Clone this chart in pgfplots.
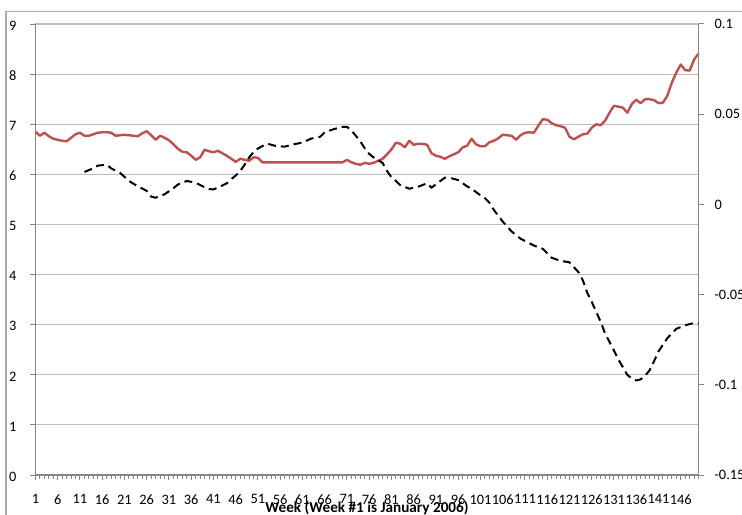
\documentclass[border=0pt]{standalone}
\usepackage{fontspec}
\setmainfont{Carlito}
\usepackage{pgfplots}
\pgfplotsset{compat=1.18}
\usetikzlibrary{calc}
\definecolor{exred}{RGB}{192,80,77}
\definecolor{axgray}{RGB}{134,134,134}
\definecolor{gridgray}{RGB}{190,190,190}
\definecolor{bordergray}{RGB}{170,170,170}

\pgfplotstableread{
w v
1 6.85
2 6.77
3 6.83
4 6.76
5 6.71
6 6.69
7 6.67
8 6.66
9 6.73
10 6.80
11 6.83
12 6.77
13 6.77
14 6.80
15 6.83
16 6.84
17 6.84
18 6.83
19 6.77
20 6.78
21 6.79
22 6.78
23 6.77
24 6.76
25 6.82
26 6.86
27 6.78
28 6.69
29 6.77
30 6.73
31 6.68
32 6.60
33 6.51
34 6.45
35 6.44
36 6.37
37 6.29
38 6.34
39 6.49
40 6.46
41 6.44
42 6.47
43 6.42
44 6.37
45 6.31
46 6.25
47 6.31
48 6.29
49 6.27
50 6.34
51 6.33
52 6.24
55 6.24
60 6.24
65 6.24
70 6.24
71 6.29
72 6.24
73 6.21
74 6.19
75 6.23
76 6.21
77 6.23
78 6.27
79 6.31
80 6.40
81 6.50
82 6.63
83 6.61
84 6.54
85 6.67
86 6.59
87 6.61
88 6.61
89 6.59
90 6.42
91 6.37
92 6.35
93 6.31
94 6.36
95 6.40
96 6.44
97 6.54
98 6.57
99 6.71
100 6.60
101 6.56
102 6.56
103 6.64
104 6.67
105 6.72
106 6.79
107 6.78
108 6.77
109 6.69
110 6.78
111 6.83
112 6.84
113 6.83
114 6.97
115 7.10
116 7.09
117 7.02
118 6.98
119 6.96
120 6.93
121 6.75
122 6.70
123 6.75
124 6.80
125 6.81
126 6.93
127 7.00
128 6.98
129 7.07
130 7.23
131 7.37
132 7.35
133 7.33
134 7.23
135 7.40
136 7.49
137 7.42
138 7.50
139 7.50
140 7.48
141 7.42
142 7.43
143 7.57
144 7.83
145 8.03
146 8.19
147 8.08
148 8.07
149 8.29
150 8.41
}\redtable

\pgfplotstableread{
w v
12 0.0180
14 0.0200
15 0.0215
17 0.0220
18 0.0200
20 0.0175
22 0.0130
24 0.0100
26 0.0075
27 0.0043
28 0.0037
30 0.0056
32 0.0090
33 0.0110
35 0.0130
36 0.0125
37 0.0120
39 0.0095
40 0.0085
41 0.0083
42 0.0093
44 0.0117
45 0.0140
46 0.0160
47 0.0185
48 0.0220
49 0.0260
50 0.0290
51 0.0310
53 0.0337
55 0.0324
57 0.0320
59 0.0333
61 0.0343
63 0.0365
65 0.0375
66 0.0400
68 0.0417
70 0.0430
71 0.0430
72 0.0410
73 0.0380
74 0.0350
75 0.0310
76 0.0280
77 0.0260
79 0.0230
80 0.0185
81 0.0150
82 0.0130
83 0.0106
85 0.0087
87 0.0098
89 0.0117
90 0.0093
92 0.0130
93 0.0148
94 0.0148
96 0.0135
98 0.0100
99 0.0087
101 0.0050
102 0.0035
103 0.0010
104 -0.0030
106 -0.0095
108 -0.0150
110 -0.0190
113 -0.0228
115 -0.0246
117 -0.0296
119 -0.0313
121 -0.0321
123 -0.0375
124 -0.0420
125 -0.0490
126 -0.0540
128 -0.0650
129 -0.0715
131 -0.0810
132 -0.0860
134 -0.0945
135 -0.0965
136 -0.0976
137 -0.0970
138 -0.0950
139 -0.0920
140 -0.0870
141 -0.0815
143 -0.0741
145 -0.0690
147 -0.0670
149 -0.0657
150 -0.0660
}\dashtable

\begin{document}
\begin{tikzpicture}
\pgfplotsset{
  common/.style={
    width=331.5pt, height=225.5pt, scale only axis,
    xmin=1, xmax=150,
    tick label style={font=\fontsize{7.2}{8}\selectfont},
    /pgf/number format/assume math mode=true,
    tick align=outside,
    major tick length=2.5pt, minor tick length=2pt,
    every tick/.style={axgray, line width=0.5pt},
    axis line style={axgray, line width=0.6pt, -},
    clip=false,
  }
}
\begin{axis}[common,
  ymin=0, ymax=9, ytick={0,1,...,9},
  axis x line*=bottom, axis y line*=left,
  ymajorgrids,
  major grid style={gridgray, line width=0.6pt},
  xtick={1,6,...,146},
  minor xtick={1,2,...,150},
  yticklabel style={xshift=-3.5pt, yshift=-0.8pt},
  xticklabel style={yshift=-3.8pt},
  xlabel={Week (Week \#1 is January 2006)},
  xlabel style={at={(axis description cs:0.5,0)}, anchor=base, yshift=-18.6pt,
    font=\fontsize{7.6}{9}\selectfont\bfseries},
]
\addplot[exred, line width=1.2pt, line join=round] table[x=w, y=v] {\redtable};
\end{axis}
\begin{axis}[common,
  ymin=-0.15, ymax=0.1,
  ytick={-0.15,-0.1,-0.05,0,0.05,0.1},
  yticklabels={-0.15,-0.1,-0.05,0,0.05,0.1},
  axis y line*=right, axis x line=none,
  yticklabel style={xshift=2pt},
]
\addplot[black, line width=1pt, dash pattern=on 4pt off 2.5pt] table[x=w, y=v] {\dashtable};
\end{axis}
\coordinate (SW) at (current axis.south west);
\coordinate (NE) at (current axis.north east);
\draw[bordergray, line width=0.6pt] ($(SW)+(-14.75pt,-40pt)$) |- ($(NE)+(40pt,6.25pt)$);
\pgfresetboundingbox
\path[use as bounding box] ($(SW)+(-17.75pt,-19.5pt)$) rectangle ($(NE)+(21.75pt,12pt)$);
\end{tikzpicture}
\end{document}
